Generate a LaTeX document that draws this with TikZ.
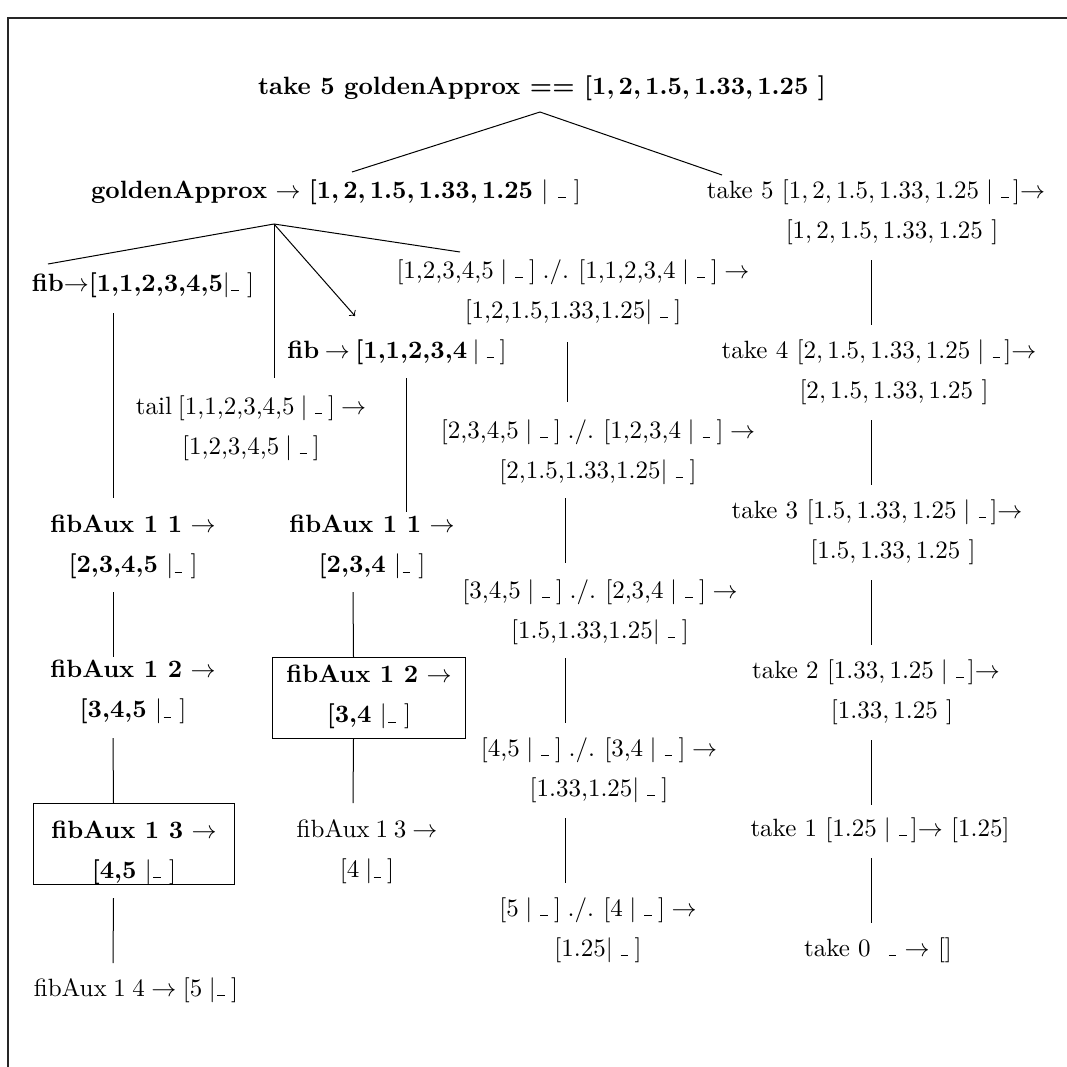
\documentclass[tikz,border=0pt]{standalone}
\usetikzlibrary{calc}
\newcommand{\ulow}{\leavevmode\kern.06em\vbox{\hrule width.3em}}
\newcommand{\tightA}{\spaceskip 2.35pt\relax}
\newcommand{\tightB}{\spaceskip 2.2pt\relax}
\newcommand{\tightC}{\spaceskip 2.6pt\relax}
\begin{document}
\tikzset{
  lbl/.style={font=\fontsize{10}{16}\selectfont, align=center, inner sep=0pt},
  tightsp/.style={lbl, font=\fontsize{10}{16}\selectfont\tightA},
  tightbf/.style={lbl, font=\fontsize{10}{16}\selectfont\tightB},
  tightdiv/.style={lbl, font=\fontsize{10}{16}\selectfont\tightC},
  boxed/.style={draw, line width=0.4pt, inner sep=0pt, anchor=north west, align=center, font=\fontsize{10}{16}\selectfont},
  conn/.style={line width=0.4pt},
  frameline/.style={line width=0.8pt, draw=black!85},
}
\begin{tikzpicture}[x=0.4pt,y=-0.4pt]
\useasboundingbox (0,0) rectangle (1067,1067);
\draw[frameline] (8,1067) -- (8,18) -- (1067,18);

% nodes
\node[lbl] (root) at (542,88) {\textbf{take 5 goldenApprox == [1,\,2,\,1.5,\,1.33,\,1.25\ ]}};
\node[lbl] (ga) at (336,192) {\textbf{goldenApprox} $\rightarrow$ \textbf{[1,\,2,\,1.5,\,1.33,\,1.25} $|$ \ulow\ ]};
\node[lbl] (t5) at (876,212) {take 5 $[1, 2, 1.5, 1.33, 1.25 \mid \ulow\,]$$\rightarrow$\\\hspace*{12.8pt}$[1, 2, 1.5, 1.33, 1.25\ ]$};

\node[lbl] (fib6) at (143,285) {\textbf{fib}$\rightarrow$\textbf{[1,1,2,3,4,5}$|$\ulow\ ]};
\node[tightsp] (tail) at (251,428) {tail [1,1,2,3,4,5 $|$ \ulow\ ] $\rightarrow$\\{}[1,2,3,4,5 $|$ \ulow\ ]};
\node[tightbf] (fib5) at (397,352) {\textbf{fib} $\rightarrow$ \textbf{[1,1,2,3,4} $|$ \ulow\ ]};

\node[tightdiv] (div1) at (573,292) {[1,2,3,4,5 $|$ \ulow\ ] ./. [1,1,2,3,4 $|$ \ulow\ ] $\rightarrow$\\{}[1,2,1.5,1.33,1.25$|$ \ulow\ ]};
\node[tightdiv] (div2) at (598,452) {[2,3,4,5 $|$ \ulow\ ] ./. [1,2,3,4 $|$ \ulow\ ] $\rightarrow$\\{}[2,1.5,1.33,1.25$|$ \ulow\ ]};
\node[tightdiv] (div3) at (600,612) {[3,4,5 $|$ \ulow\ ] ./. [2,3,4 $|$ \ulow\ ] $\rightarrow$\\{}[1.5,1.33,1.25$|$ \ulow\ ]};
\node[tightdiv] (div4) at (599,770) {[4,5 $|$ \ulow\ ] ./. [3,4 $|$ \ulow\ ] $\rightarrow$\\{}[1.33,1.25$|$ \ulow\ ]};
\node[tightdiv] (div5) at (598,930) {[5 $|$ \ulow\ ] ./. [4 $|$ \ulow\ ] $\rightarrow$\\{}[1.25$|$ \ulow\ ]};

\node[lbl] (t4) at (879,372) {take 4 $[2, 1.5, 1.33, 1.25 \mid \ulow\,]$$\rightarrow$\\\hspace*{12pt}$[2, 1.5, 1.33, 1.25\ ]$};
\node[lbl] (t3) at (877,532) {take 3 $[1.5, 1.33, 1.25 \mid \ulow\,]$$\rightarrow$\\\hspace*{12.8pt}$[1.5, 1.33, 1.25\ ]$};
\node[lbl] (t2) at (876,692) {take 2 $[1.33, 1.25 \mid \ulow\,]$$\rightarrow$\\\hspace*{12.8pt}$[1.33, 1.25\ ]$};
\node[lbl] (t1) at (880,830) {take 1 $[1.25 \mid \ulow\,]$$\rightarrow$ $[1.25]$};
\node[lbl] (t0) at (878,950) {take 0 \ \ulow\ $\rightarrow$ []};

\node[lbl] (fa11a) at (133,547) {\textbf{fibAux 1 1} $\rightarrow$\\\textbf{[2,3,4,5} $|$\ulow\ ]};
\node[lbl] (fa11b) at (372,547) {\textbf{fibAux 1 1} $\rightarrow$\\\textbf{[2,3,4} $|$\ulow\ ]};
\node[lbl] (fa12a) at (133,692) {\textbf{fibAux 1 2} $\rightarrow$\\\textbf{[3,4,5} $|$\ulow\ ]};
\node[boxed, minimum width=77.2pt, minimum height=32.4pt] (fa12b) at (272,657)
  {\rule{0pt}{10pt}\textbf{fibAux 1 2} $\rightarrow$\\\textbf{[3,4} $|$\ulow\ ]\rule[-6.4pt]{0pt}{6.4pt}};
\node[boxed, minimum width=80.4pt, minimum height=32.4pt] (fa13a) at (33,803)
  {\rule{0pt}{13.9pt}\textbf{fibAux 1 3} $\rightarrow$\\\textbf{[4,5} $|$\ulow\ ]};
\node[tightsp] (fa13b) at (367,852) {fibAux 1 3 $\rightarrow$\\{}[4 $|$\ulow\ ]};
\node[tightdiv] (fa14) at (136,990) {fibAux 1 4 $\rightarrow$ [5 $|$\ulow\ ]};

% connectors
\draw[conn] ($(root)+(-2,24)$) -- ($(ga)+(16,-20)$);
\draw[conn] ($(root)+(-2,24)$) -- ($(t5)+(-154,-37)$);

\draw[conn] ($(ga)+(-62,32)$) -- ($(fib6)+(-95,-21)$);
\draw[conn] ($(ga)+(-62,32)$) -- ($(tail)+(23,-50)$);
\draw[conn,->] ($(ga)+(-62,32)$) -- ($(fib5)+(-42,-36)$);
\draw[conn] ($(ga)+(-62,32)$) -- ($(div1)+(-113,-40)$);

\draw[conn] ($(fib6)+(-30,28)$) -- ($(fa11a)+(-20,-49)$);
\draw[conn] ($(fa11a)+(-20,45)$) -- ($(fa12a)+(-20,-35)$);
\draw[conn] ($(fa12a)+(-20,46)$) -- ($(fa13a.north)+(-20.5,0)$);
\draw[conn] ($(fa13a.south)+(-20.5,13)$) -- ($(fa14)+(-23,-27)$);

\draw[conn] ($(fib5)+(9,26)$) -- ($(fa11b)+(34,-35)$);
\draw[conn] ($(fa11b)+(-19,45)$) -- ($(fa12b.north)+(-15.5,0)$);
\draw[conn] ($(fa12b.south)+(-15.5,0)$) -- ($(fa13b)+(-14,-49)$);

\draw[conn] ($(div1)+(-6,50)$) -- ($(div2)+(-31,-50)$);
\draw[conn] ($(div2)+(-33,46)$) -- ($(div3)+(-35,-49)$);
\draw[conn] ($(div3)+(-35,46)$) -- ($(div4)+(-34,-47)$);
\draw[conn] ($(div4)+(-34,48)$) -- ($(div5)+(-33,-47)$);

\draw[conn] ($(t5)+(-5,48)$) -- ($(t4)+(-8,-47)$);
\draw[conn] ($(t4)+(-8,48)$) -- ($(t3)+(-6,-47)$);
\draw[conn] ($(t3)+(-6,48)$) -- ($(t2)+(-5,-47)$);
\draw[conn] ($(t2)+(-5,48)$) -- ($(t1)+(-9,-25)$);
\draw[conn] ($(t1)+(-9,28)$) -- ($(t0)+(-7,-27)$);
\end{tikzpicture}
\end{document}
